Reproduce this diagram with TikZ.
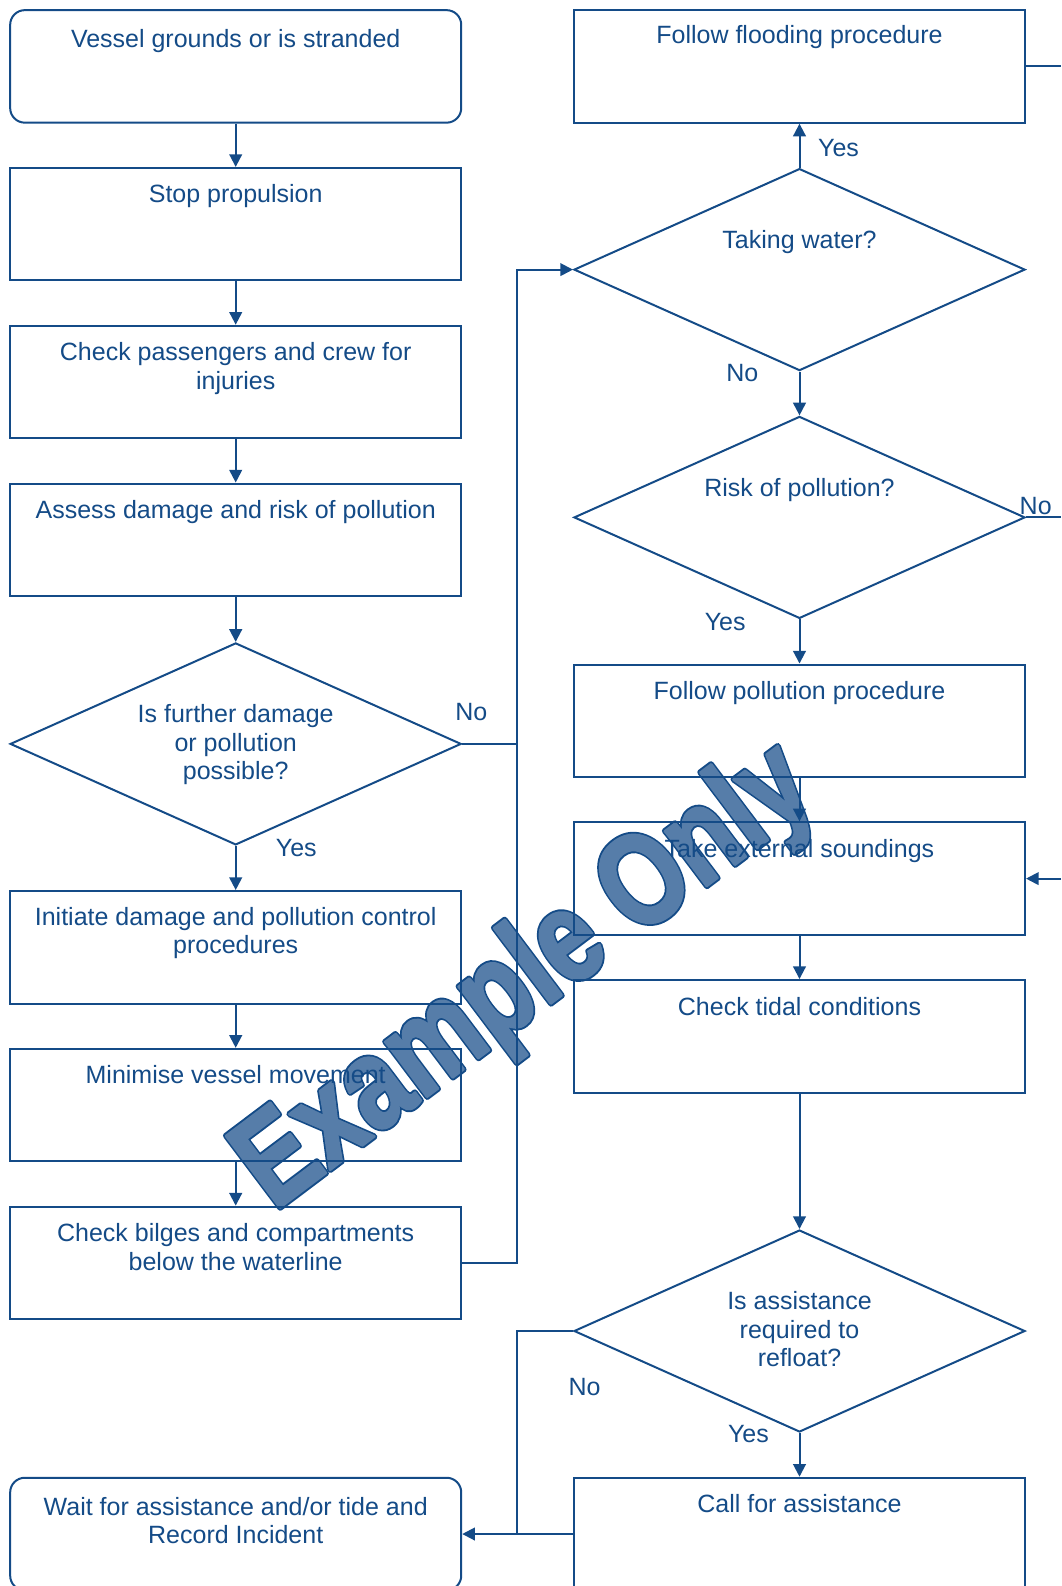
\documentclass[tikz,border=0pt]{standalone}
\usepackage{fontspec}
\setmainfont{Liberation Sans}
\newfontfamily\wmfillfont[FakeBold=2]{Liberation Sans Bold}
\newfontfamily\wmedgefont[FakeBold=5]{Liberation Sans Bold}
\usetikzlibrary{shapes.geometric,arrows.meta}
\definecolor{ink}{RGB}{20,75,135}
\colorlet{wmfill}{ink!72!white}
% multi-line text block whose reference point is the first baseline
\newcommand\lines[1]{\begin{tabular}[t]{@{}c@{}}#1\end{tabular}}
\begin{document}
\begin{tikzpicture}[x=0.75pt,y=-0.75pt,
  box/.style={draw=ink, line width=1.5pt, minimum width=338.3pt, minimum height=84.4pt, inner sep=0pt},
  rbox/.style={box, rounded corners=11pt},
  dia/.style={diamond, draw=ink, line width=1.5pt, minimum width=338.3pt, minimum height=151.5pt, inner sep=0pt},
  txt/.style={text=ink, inner sep=0pt, anchor=base, font=\fontsize{18.75pt}{21.4pt}\selectfont},
  lbl/.style={text=ink, inner sep=0pt, anchor=center, font=\fontsize{18.75pt}{21.4pt}\selectfont},
  ln/.style={draw=ink, line width=1.5pt},
  arr/.style={ln, -{Triangle[length=9.5pt,width=9.5pt]}},
  wmark/.style={rotate=37, yscale=1.26, transform shape, inner sep=0pt,
                anchor=base west, line join=round}]
\useasboundingbox (0,0) rectangle (1061,1586);

% watermark, behind the chart
\coordinate (wmbase) at (274,1212);
\node[wmark, text=ink, font=\wmedgefont\fontsize{77.5pt}{80pt}\selectfont] (wmedge) at (wmbase) {Example Only};
\node[wmark, text=wmfill, font=\wmfillfont\fontsize{77.5pt}{80pt}\selectfont] (wm) at (wmbase) {Example Only};

% left column
\node[rbox] (b1) at (235.7,66.4) {};
\node[box]  (b2) at (235.7,224.2) {};
\node[box]  (b3) at (235.7,382.0) {};
\node[box]  (b4) at (235.7,539.8) {};
\node[dia]  (d1) at (235.7,743.9) {};
\node[box]  (b5) at (235.7,947.3) {};
\node[box]  (b6) at (235.7,1105.1) {};
\node[box]  (b7) at (235.7,1262.9) {};
\node[rbox] (b8) at (235.7,1534.0) {};

% right column
\node[box] (r1)  at (799.5,66.4) {};
\node[dia] (rd1) at (799.5,269.6) {};
\node[dia] (rd2) at (799.5,517.4) {};
\node[box] (r2)  at (799.5,720.8) {};
\node[box] (r3)  at (799.5,878.6) {};
\node[box] (r4)  at (799.5,1036.3) {};
\node[dia] (rd3) at (799.5,1331.0) {};
\node[box] (r5)  at (799.5,1534.0) {};

% texts
\node[txt] (t1) at ([yshift=-29pt]b1.north) {Vessel grounds or is stranded};
\node[txt] (t2) at ([yshift=-27pt]b2.north) {Stop propulsion};
\node[txt] (t3) at ([yshift=-27pt]b3.north) {\lines{Check passengers and crew for\\injuries}};
\node[txt] (t4) at ([yshift=-27pt]b4.north) {Assess damage and risk of pollution};
\node[txt] (td1) at ([yshift=15.75pt]d1.center) {\lines{Is further damage\\or pollution\\possible?}};
\node[txt] (t5) at ([yshift=-26.5pt]b5.north) {\lines{Initiate damage and pollution control\\procedures}};
\node[txt] (t6) at ([yshift=-27pt]b6.north) {Minimise vessel movement};
\node[txt] (t7) at ([yshift=-27pt]b7.north) {\lines{Check bilges and compartments\\below the waterline}};
\node[txt] (t8) at ([yshift=-29pt]b8.north) {\lines{Wait for assistance and/or tide and\\Record Incident}};

\node[txt] (tr1) at ([yshift=-25.5pt]r1.north) {Follow flooding procedure};
\node[txt] (trd1) at ([yshift=16.2pt]rd1.center) {Taking water?};
\node[txt] (trd2) at ([yshift=15.75pt]rd2.center) {Risk of pollution?};
\node[txt] (tr2) at ([yshift=-27pt]r2.north) {Follow pollution procedure};
\node[txt] (tr3) at ([yshift=-27pt]r3.north) {Take external soundings};
\node[txt] (tr4) at ([yshift=-27pt]r4.north) {Check tidal conditions};
\node[txt] (trd3) at ([yshift=15.9pt]rd3.center) {\lines{Is assistance\\required to\\refloat?}};
\node[txt] (tr5) at ([yshift=-27pt]r5.north) {Call for assistance};

% branch labels
\node[lbl] (l1) at (471.3,712.0) {No};
\node[lbl] (l2) at (296.3,847.6) {Yes};
\node[lbl] (l3) at (838.5,147.7) {Yes};
\node[lbl] (l4) at (742.4,373.2) {No};
\node[lbl] (l5) at (1035.7,505.7) {No};
\node[lbl] (l6) at (725.2,622.0) {Yes};
\node[lbl] (l7) at (584.6,1386.6) {No};
\node[lbl] (l8) at (748.4,1434.2) {Yes};

% junction column and right margin
\coordinate (jx) at (516.8,0);
\coordinate (rim) at (1061,0);

% left chain
\draw[arr] (b1) -- (b2);
\draw[arr] (b2) -- (b3);
\draw[arr] (b3) -- (b4);
\draw[arr] (b4) -- (d1);
\draw[arr] (d1) -- (b5);
\draw[arr] (b5) -- (b6);
\draw[arr] (b6) -- (b7);

% into "Taking water?"
\draw[arr] (b7.east) -- (b7.east -| jx) |- (rd1.west);
\draw[ln] (d1.east) -- (d1.east -| jx);

% right chain
\draw[arr] (rd1) -- (r1);
\draw[arr] (rd1) -- (rd2);
\draw[arr] (rd2) -- (r2);
\draw[arr] (r2) -- (r3);
\draw[arr] (r3) -- (r4);
\draw[arr] (r4) -- (rd3);
\draw[arr] (rd3) -- (r5);

% off to the right
\draw[ln] (r1.east) -- (r1.east -| rim);
\draw[ln] (rd2.east) -- (rd2.east -| rim);
\draw[arr] (r3.east -| rim) -- (r3.east);

% into "Wait for assistance"
\draw[arr] (rd3.west) -| (jx |- b8.east) -- (b8.east);
\draw[ln] (r5.west) -- (jx |- r5.west);
\end{tikzpicture}
\end{document}
